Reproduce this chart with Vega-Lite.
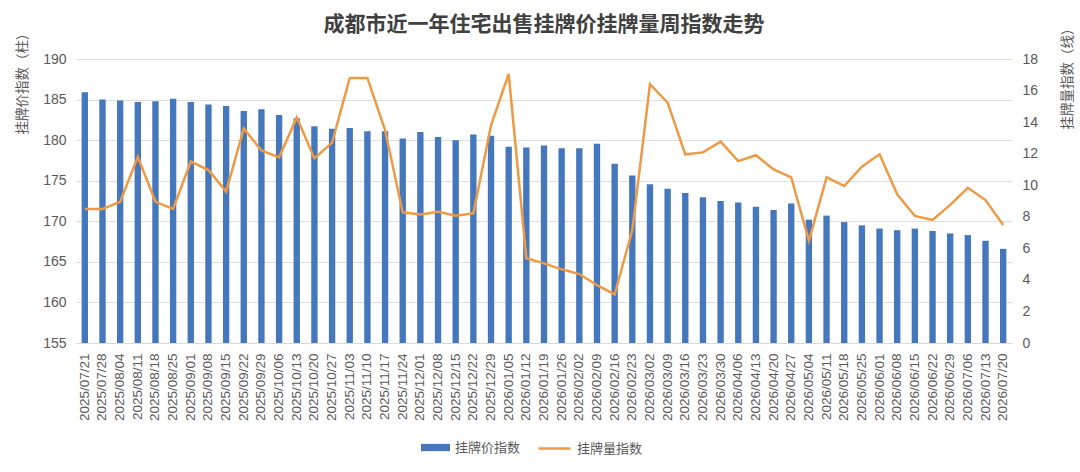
{
  "$schema": "https://vega.github.io/schema/vega-lite/v6.json",
  "description": "成都市近一年住宅出售挂牌价挂牌量周指数走势",
  "autosize": {"type": "none"},
  "padding": {"left": 76, "top": 59, "right": 68, "bottom": 129},
  "width": 936,
  "height": 284,
  "background": "white",
  "title": {
    "text": "成都市近一年住宅出售挂牌价挂牌量周指数走势",
    "font": "Noto Sans CJK SC",
    "fontSize": 21,
    "fontWeight": "bold",
    "color": "#404040",
    "anchor": "middle",
    "frame": "group",
    "offset": -14
  },
  "data": {
    "values": [
      {"date": "2025/07/21", "price": 185.9, "volume": 8.5},
      {"date": "2025/07/28", "price": 185.0, "volume": 8.5},
      {"date": "2025/08/04", "price": 184.9, "volume": 8.95},
      {"date": "2025/08/11", "price": 184.7, "volume": 11.8},
      {"date": "2025/08/18", "price": 184.8, "volume": 8.95},
      {"date": "2025/08/25", "price": 185.1, "volume": 8.5},
      {"date": "2025/09/01", "price": 184.7, "volume": 11.5},
      {"date": "2025/09/08", "price": 184.4, "volume": 10.96},
      {"date": "2025/09/15", "price": 184.2, "volume": 9.6},
      {"date": "2025/09/22", "price": 183.6, "volume": 13.6},
      {"date": "2025/09/29", "price": 183.8, "volume": 12.2},
      {"date": "2025/10/06", "price": 183.1, "volume": 11.77},
      {"date": "2025/10/13", "price": 182.7, "volume": 14.3},
      {"date": "2025/10/20", "price": 181.7, "volume": 11.7},
      {"date": "2025/10/27", "price": 181.4, "volume": 12.7},
      {"date": "2025/11/03", "price": 181.5, "volume": 16.8},
      {"date": "2025/11/10", "price": 181.1, "volume": 16.8},
      {"date": "2025/11/17", "price": 181.1, "volume": 13.5},
      {"date": "2025/11/24", "price": 180.2, "volume": 8.28},
      {"date": "2025/12/01", "price": 181.0, "volume": 8.15},
      {"date": "2025/12/08", "price": 180.4, "volume": 8.32},
      {"date": "2025/12/15", "price": 180.0, "volume": 8.07},
      {"date": "2025/12/22", "price": 180.7, "volume": 8.22},
      {"date": "2025/12/29", "price": 180.55, "volume": 13.8},
      {"date": "2026/01/05", "price": 179.2, "volume": 17.05},
      {"date": "2026/01/12", "price": 179.1, "volume": 5.37},
      {"date": "2026/01/19", "price": 179.35, "volume": 5.05},
      {"date": "2026/01/26", "price": 179.0, "volume": 4.67},
      {"date": "2026/02/02", "price": 179.0, "volume": 4.37},
      {"date": "2026/02/09", "price": 179.55, "volume": 3.67},
      {"date": "2026/02/16", "price": 177.1, "volume": 3.08},
      {"date": "2026/02/23", "price": 175.65, "volume": 7.16},
      {"date": "2026/03/02", "price": 174.55, "volume": 16.4},
      {"date": "2026/03/09", "price": 174.0, "volume": 15.23},
      {"date": "2026/03/16", "price": 173.5, "volume": 11.96},
      {"date": "2026/03/23", "price": 172.95, "volume": 12.08},
      {"date": "2026/03/30", "price": 172.5, "volume": 12.76},
      {"date": "2026/04/06", "price": 172.3, "volume": 11.53},
      {"date": "2026/04/13", "price": 171.8, "volume": 11.9},
      {"date": "2026/04/20", "price": 171.4, "volume": 11.0},
      {"date": "2026/04/27", "price": 172.2, "volume": 10.5},
      {"date": "2026/05/04", "price": 170.2, "volume": 6.48},
      {"date": "2026/05/11", "price": 170.7, "volume": 10.5},
      {"date": "2026/05/18", "price": 169.9, "volume": 9.95},
      {"date": "2026/05/25", "price": 169.5, "volume": 11.17},
      {"date": "2026/06/01", "price": 169.1, "volume": 11.96},
      {"date": "2026/06/08", "price": 168.9, "volume": 9.42},
      {"date": "2026/06/15", "price": 169.1, "volume": 8.05},
      {"date": "2026/06/22", "price": 168.8, "volume": 7.8},
      {"date": "2026/06/29", "price": 168.5, "volume": 8.75},
      {"date": "2026/07/06", "price": 168.3, "volume": 9.84},
      {"date": "2026/07/13", "price": 167.6, "volume": 9.06},
      {"date": "2026/07/20", "price": 166.6, "volume": 7.48}
    ]
  },
  "encoding": {
    "x": {
      "field": "date",
      "type": "ordinal",
      "sort": null,
      "scale": {"paddingInner": 0.64, "paddingOuter": 0.32},
      "axis": {
        "title": null,
        "labelAngle": 270,
        "labelFont": "Liberation Sans",
        "labelFontSize": 13.5,
        "labelColor": "#595959",
        "labelPadding": 10,
        "ticks": false,
        "domainColor": "#d9d9d9",
        "grid": false
      }
    }
  },
  "layer": [
    {
      "mark": {"type": "bar"},
      "encoding": {
        "y": {
          "field": "price",
          "type": "quantitative",
          "scale": {"domain": [155, 190], "zero": false, "nice": false},
          "axis": {
            "title": "挂牌价指数（柱）",
            "values": [155, 160, 165, 170, 175, 180, 185, 190],
            "titleFont": "Noto Sans CJK SC",
            "titleFontSize": 13.5,
            "titleFontWeight": "normal",
            "titleColor": "#595959",
            "titleAngle": 270,
            "titleAlign": "center",
            "titleBaseline": "middle",
            "titleX": -54,
            "titleY": 21,
            "labelFont": "Liberation Sans",
            "labelFontSize": 14,
            "labelColor": "#595959",
            "labelPadding": 10,
            "ticks": false,
            "domain": false,
            "grid": true,
            "gridColor": "#dedede"
          }
        },
        "y2": {"datum": 155},
        "fill": {
          "datum": "挂牌价指数",
          "scale": {"range": ["#4577bd"]},
          "legend": {
            "title": null,
            "orient": "none",
            "legendX": 345,
            "legendY": 374,
            "symbolType": "M-1,-0.25H1V0.25H-1Z",
            "symbolSize": 841,
            "symbolStrokeWidth": 0,
            "labelFont": "Noto Sans CJK SC",
            "labelFontSize": 13,
            "labelColor": "#595959",
            "labelOffset": 5
          }
        }
      }
    },
    {
      "mark": {"type": "line", "strokeWidth": 2.5, "strokeJoin": "miter"},
      "encoding": {
        "y": {
          "field": "volume",
          "type": "quantitative",
          "scale": {"domain": [0, 18], "nice": false},
          "axis": {
            "orient": "right",
            "title": "挂牌量指数（线）",
            "values": [0, 2, 4, 6, 8, 10, 12, 14, 16, 18],
            "titleFont": "Noto Sans CJK SC",
            "titleFontSize": 13.5,
            "titleFontWeight": "normal",
            "titleColor": "#595959",
            "titleAngle": 270,
            "titleAlign": "center",
            "titleBaseline": "middle",
            "titleX": 55,
            "titleY": 16,
            "labelFont": "Liberation Sans",
            "labelFontSize": 14,
            "labelColor": "#595959",
            "labelPadding": 10,
            "ticks": false,
            "domain": false,
            "grid": false
          }
        },
        "stroke": {
          "datum": "挂牌量指数",
          "scale": {"range": ["#ee9a45"]},
          "legend": {
            "title": null,
            "orient": "none",
            "legendX": 461,
            "legendY": 372,
            "symbolType": "stroke",
            "symbolSize": 1024,
            "symbolStrokeWidth": 2.5,
            "labelFont": "Noto Sans CJK SC",
            "labelFontSize": 13,
            "labelColor": "#595959",
            "labelOffset": 5
          }
        }
      }
    }
  ],
  "resolve": {"scale": {"y": "independent"}},
  "config": {
    "view": {"stroke": null}
  }
}
